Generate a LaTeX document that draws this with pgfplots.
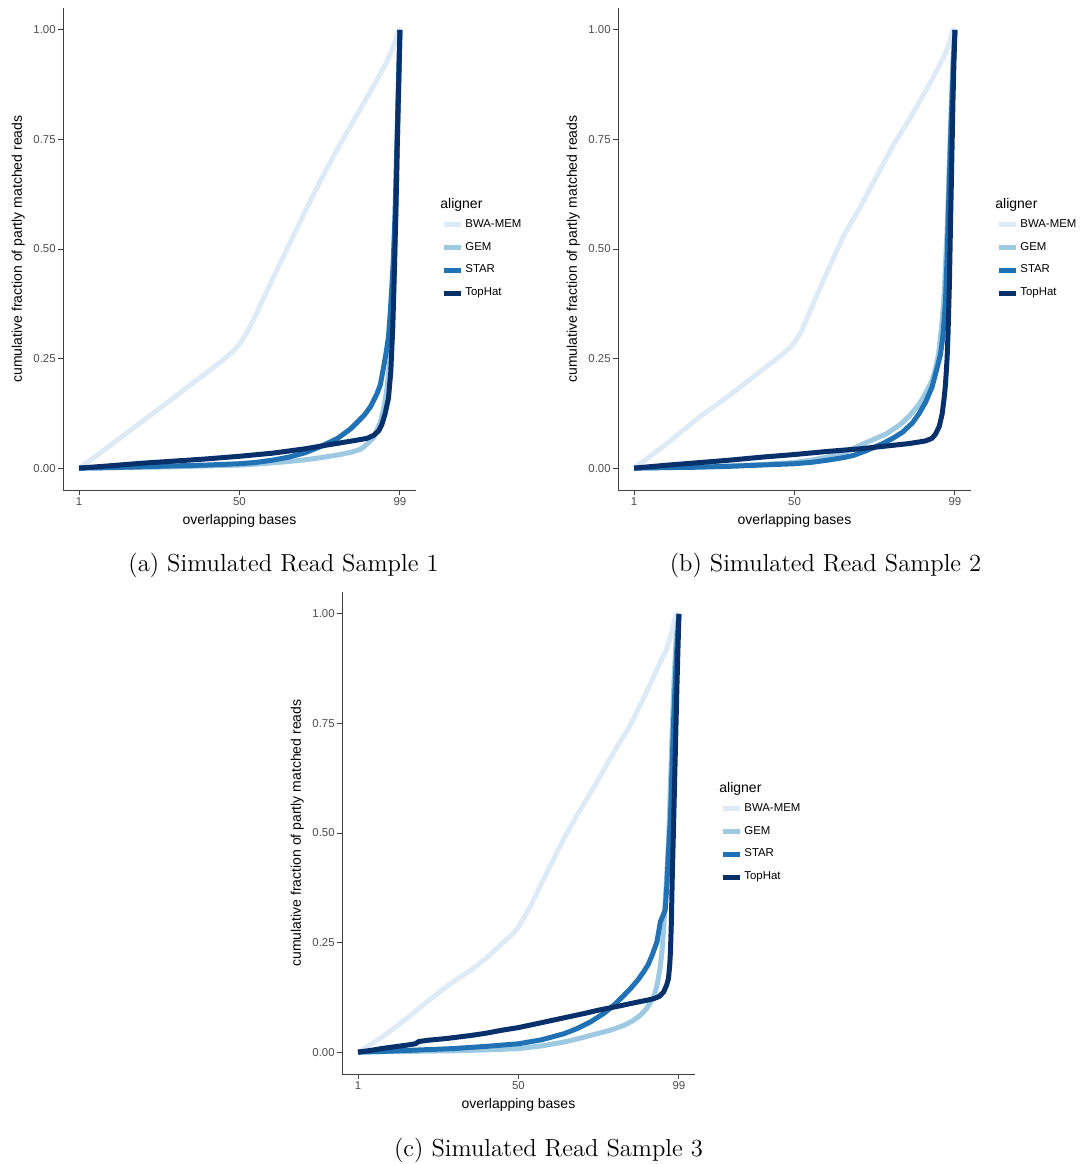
\documentclass[border=0pt]{standalone}
\usepackage{fontspec}
\setsansfont{Liberation Sans}
\usepackage{pgfplots}
\pgfplotsset{compat=1.18}

\definecolor{cBWA}{HTML}{DEEBF7}
\definecolor{cGEM}{HTML}{9ECAE1}
\definecolor{cSTAR}{HTML}{2171B5}
\definecolor{cTOP}{HTML}{08306B}

\pgfplotsset{
  readplot/.style={
    scale only axis, width=176.5pt, height=241pt,
    xmin=-3.9, xmax=103.9, ymin=-0.05, ymax=1.05,
    axis x line*=bottom, axis y line*=left,
    axis line style={black!75, line width=0.5pt, -},
    xtick={1,50,99}, xticklabels={1,50,99},
    ytick={0,0.25,0.5,0.75,1}, yticklabels={0.00,0.25,0.50,0.75,1.00},
    tick align=outside, major tick length=2.5pt,
    tick style={black!75, line width=0.5pt},
    ticklabel style={font=\sffamily\fontsize{5.7}{6}\selectfont, text=black!70, inner sep=1pt},
    xlabel={overlapping bases},
    ylabel={cumulative fraction of partly matched reads},
    label style={font=\sffamily\fontsize{7}{8}\selectfont, inner sep=0pt},
    xlabel style={at={(axis description cs:0.5,-0.064)}, anchor=center},
    ylabel style={at={(axis description cs:-0.127,0.5)}, anchor=center},
    every axis plot/.append style={line width=2.5pt, line join=round, no markers},
    legend style={at={(1.072,0.566)}, anchor=north west, draw=none, fill=none,
      inner sep=0pt, row sep=4.4pt,
      font=\sffamily\fontsize{5.7}{6}\selectfont,
      nodes={inner sep=0.8pt},
      /tikz/every even column/.append style={column sep=0pt}},
    legend cell align=left,
    legend image code/.code={\draw[#1, line width=2.5pt] (0pt,0pt) -- (8.5pt,0pt);},
    extra description/.code={
      \node[anchor=base west, font=\sffamily\fontsize{7}{8}\selectfont, inner sep=0pt]
        at (1.068,0.585) {aligner};
    },
  }
}

\begin{document}
\begin{tikzpicture}
\path (0,0) rectangle (542pt,-582pt);

% (a)
\begin{axis}[readplot, at={(31.5pt,-245pt)}, anchor=south west]
\addplot[cBWA] coordinates {(1,0) (5,0.021) (10,0.049) (15,0.077) (20,0.105) (25,0.133) (30,0.161) (35,0.19) (40,0.218) (45,0.247) (48,0.266) (50,0.283) (52,0.306) (55,0.35) (60,0.43) (65,0.508) (70,0.585) (75,0.66) (80,0.73) (85,0.795) (90,0.86) (93,0.9) (95,0.927) (97,0.962) (98,0.985) (98.5,1.0) (99,1.0)};
\addplot[cGEM] coordinates {(1,0) (10,0.001) (20,0.002) (30,0.003) (40,0.005) (50,0.007) (55,0.009) (60,0.012) (65,0.015) (70,0.019) (75,0.024) (80,0.03) (84,0.036) (87,0.043) (89,0.055) (91,0.07) (93,0.105) (94,0.135) (95,0.18) (96,0.25) (96.5,0.31) (97,0.38) (97.5,0.5) (98,0.65) (98.5,0.82) (99,1)};
\addplot[cSTAR] coordinates {(1,0) (10,0.001) (20,0.003) (30,0.005) (40,0.007) (50,0.01) (55,0.013) (60,0.018) (65,0.025) (70,0.035) (75,0.05) (80,0.068) (84,0.09) (88,0.12) (90,0.14) (92,0.17) (93,0.19) (94,0.23) (94.7,0.26) (95.5,0.3) (96,0.35) (96.5,0.41) (97,0.48) (97.5,0.58) (98,0.72) (98.5,0.87) (99,1)};
\addplot[cTOP] coordinates {(1,0) (10,0.005) (20,0.011) (30,0.016) (40,0.021) (50,0.027) (60,0.034) (70,0.044) (77,0.053) (82,0.059) (86,0.064) (89,0.068) (91,0.075) (92.5,0.085) (93.5,0.1) (94.5,0.125) (95.5,0.16) (96.2,0.22) (96.8,0.32) (97.3,0.45) (97.8,0.6) (98.3,0.78) (98.7,0.9) (99,1)};
\legend{BWA-MEM,GEM,STAR,TopHat}
\end{axis}

% (b)
\begin{axis}[readplot, at={(309pt,-245pt)}, anchor=south west]
\addplot[cBWA] coordinates {(1,0) (5,0.022) (10,0.05) (15,0.08) (21,0.117) (30,0.165) (36,0.2) (42,0.235) (46,0.258) (49,0.277) (52,0.31) (56,0.38) (61,0.465) (65,0.53) (70,0.595) (75,0.665) (80,0.735) (85,0.795) (90,0.86) (94,0.915) (96,0.945) (97.5,0.975) (98.3,1.0) (99,1.0)};
\addplot[cGEM] coordinates {(1,0) (10,0.001) (20,0.003) (30,0.005) (40,0.008) (50,0.013) (55,0.018) (60,0.025) (65,0.035) (70,0.052) (74,0.065) (78,0.078) (82,0.098) (85,0.118) (88,0.145) (90,0.17) (92,0.2) (93,0.225) (94,0.26) (95,0.33) (95.6,0.385) (96.6,0.54) (97.6,0.77) (98.3,0.92) (99,1)};
\addplot[cSTAR] coordinates {(1,0) (10,0.001) (20,0.002) (30,0.004) (40,0.007) (50,0.01) (55,0.013) (60,0.018) (65,0.024) (68,0.029) (72,0.04) (77,0.056) (80,0.068) (83,0.082) (86,0.103) (88,0.124) (90,0.15) (92,0.185) (93.6,0.23) (94.6,0.26) (95.3,0.3) (96.1,0.38) (96.6,0.48) (97.1,0.61) (97.8,0.78) (98.4,0.9) (99,1)};
\addplot[cTOP] coordinates {(1,0) (10,0.006) (20,0.012) (30,0.018) (40,0.025) (50,0.031) (60,0.038) (70,0.044) (75,0.048) (80,0.052) (85,0.056) (90,0.062) (92,0.068) (93.1,0.078) (94.2,0.095) (95.1,0.124) (95.7,0.16) (96.1,0.19) (96.6,0.25) (96.9,0.31) (97.3,0.42) (97.6,0.54) (98,0.69) (98.4,0.84) (98.7,0.93) (99,1)};
\legend{BWA-MEM,GEM,STAR,TopHat}
\end{axis}

% (c)
\begin{axis}[readplot, at={(171pt,-537pt)}, anchor=south west]
\addplot[cBWA] coordinates {(1,0) (5,0.018) (9,0.038) (13.2,0.061) (18,0.09) (23.3,0.122) (29,0.155) (35.5,0.187) (41,0.22) (45.6,0.252) (48,0.268) (49.7,0.282) (51.5,0.305) (53.8,0.335) (58,0.4) (63.9,0.488) (69,0.555) (74,0.617) (79,0.683) (84.2,0.747) (89,0.82) (93.3,0.89) (95,0.915) (96.3,0.945) (97.2,0.97) (97.8,0.99) (98.2,1.0) (99,1.0)};
\addplot[cGEM] coordinates {(1,0) (10,0.001) (20,0.002) (30,0.003) (40,0.005) (50,0.008) (57,0.014) (63.9,0.023) (69,0.032) (74,0.042) (78,0.05) (82.2,0.061) (85,0.072) (87.2,0.084) (89,0.098) (90.3,0.114) (91.5,0.13) (92.3,0.152) (93.2,0.19) (93.8,0.229) (94.3,0.28) (94.8,0.343) (95.4,0.42) (95.9,0.495) (96.4,0.61) (96.9,0.724) (97.5,0.85) (98.2,0.95) (99,1)};
\addplot[cSTAR] coordinates {(1,0) (10,0.002) (20,0.005) (30,0.008) (40,0.013) (50,0.019) (57,0.028) (63.9,0.042) (68,0.054) (72,0.069) (76,0.088) (79.1,0.107) (82,0.128) (84.2,0.145) (86.5,0.165) (88.2,0.183) (89.6,0.2) (90.8,0.221) (92.3,0.252) (93.3,0.297) (94.8,0.324) (95.3,0.38) (95.8,0.457) (96.4,0.534) (96.9,0.65) (97.4,0.762) (98.2,0.9) (99,1)};
\addplot[cTOP] coordinates {(1,0) (5,0.004) (8.1,0.008) (12,0.012) (16,0.016) (18.5,0.019) (19.5,0.024) (22.3,0.027) (28,0.031) (35.5,0.038) (40,0.043) (45,0.05) (50,0.056) (53.8,0.062) (60,0.072) (65,0.08) (70,0.088) (74,0.095) (80,0.104) (85,0.112) (89,0.118) (91.3,0.122) (93,0.127) (94.3,0.137) (95.2,0.152) (95.8,0.168) (96.2,0.2) (96.4,0.229) (96.7,0.3) (96.9,0.38) (97.4,0.53) (97.9,0.686) (98.4,0.84) (99,1)};
\legend{BWA-MEM,GEM,STAR,TopHat}
\end{axis}

\node[font=\fontsize{12.3}{14}\selectfont, inner sep=0pt] at (141.75pt,-282.5pt) {(a) Simulated Read Sample 1};
\node[font=\fontsize{12.3}{14}\selectfont, inner sep=0pt] at (412.75pt,-282.5pt) {(b) Simulated Read Sample 2};
\node[font=\fontsize{12.3}{14}\selectfont, inner sep=0pt] at (274.25pt,-575pt) {(c) Simulated Read Sample 3};
\end{tikzpicture}
\end{document}
